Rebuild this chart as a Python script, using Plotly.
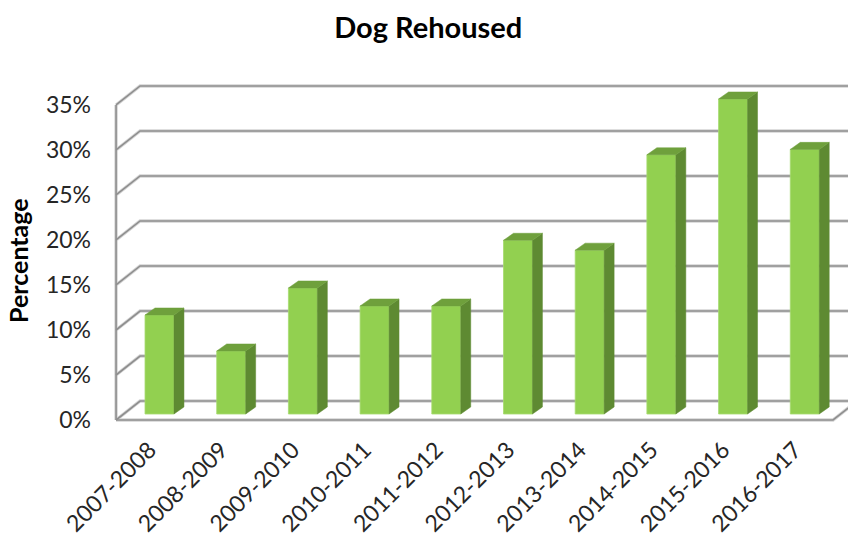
import plotly.graph_objects as go

# Share of dogs rehoused per season
seasons = ["2007-2008", "2008-2009", "2009-2010", "2010-2011", "2011-2012",
           "2012-2013", "2013-2014", "2014-2015", "2015-2016", "2016-2017"]
rehoused_pct = [11.0, 7.0, 14.0, 12.0, 12.0, 19.3, 18.2, 28.8, 35.0, 29.4]
tick_pct = [0, 5, 10, 15, 20, 25, 30, 35]

FONT = "Lato, 'Open Sans', sans-serif"
FRONT = "#92D050"
SIDE = "#5E8A32"
TOP = "#6FA03C"

idx = list(range(len(seasons)))
bar_w = 0.404
bar_dx, bar_dy = 0.139, 0.78          # depth of each bar (x units, % units)
box_front = (-0.106, -0.667)          # bar plane -> front edge of floor/walls
box_back = (0.229, 1.444)             # bar plane -> back wall
x_lo, x_hi = -0.5, 9.5                # extent of the floor on the bar plane
label_shift = -0.14                   # category labels sit at the floor's front edge

fig = go.Figure()

# front faces of the bars
fig.add_trace(go.Bar(
    x=idx, y=rehoused_pct, width=bar_w,
    marker=dict(color=FRONT, line=dict(color="#A6DA6E", width=0.8)),
    hovertext=seasons, hoverinfo="text+y", showlegend=False,
))

# side and top faces, built from the same values
side_x, side_y, top_x, top_y = [], [], [], []
for i, v in zip(idx, rehoused_pct):
    r, l = i + bar_w / 2, i - bar_w / 2
    side_x += [r, r + bar_dx, r + bar_dx, r, r, None]
    side_y += [0, bar_dy, v + bar_dy, v, 0, None]
    top_x += [l, l + bar_dx, r + bar_dx, r, l, None]
    top_y += [v, v + bar_dy, v + bar_dy, v, v, None]
fig.add_trace(go.Scatter(x=side_x, y=side_y, mode="lines", fill="toself",
                         fillcolor=SIDE, line=dict(color=SIDE, width=0.5),
                         hoverinfo="skip", showlegend=False))
fig.add_trace(go.Scatter(x=top_x, y=top_y, mode="lines", fill="toself",
                         fillcolor=TOP, line=dict(color=TOP, width=0.5),
                         hoverinfo="skip", showlegend=False))

# walls and floor: gridlines run along the left wall and across the back wall
fx, fy = box_front
bx, by = box_back
paths = []
for t in tick_pct:
    paths.append(f"M{x_lo + fx},{t + fy} L{x_lo + bx},{t + by} L{x_hi + bx + 1},{t + by}")
paths.append(f"M{x_lo + fx},{fy} L{x_lo + fx},{tick_pct[-1] + fy}")
paths.append(f"M{x_lo + fx},{fy} L{x_hi + fx},{fy} L{x_hi + bx},{by}")
shapes = []
for p in paths:
    shapes.append(dict(type="path", path=p, xref="x", yref="y", layer="below",
                       line=dict(color="#D4D4D4", width=3.4)))
for p in paths:
    shapes.append(dict(type="path", path=p, xref="x", yref="y", layer="below",
                       line=dict(color="#8E8E8E", width=1.6)))

fig.update_layout(
    width=848, height=536,
    margin=dict(l=100, r=0, t=70, b=106, autoexpand=False),
    paper_bgcolor="white", plot_bgcolor="white",
    shapes=shapes,
    title=dict(text="<b>Dog Rehoused</b>", x=0.505, xref="container",
               y=1 - 28 / 536, yanchor="middle", xanchor="center",
               automargin=False,
               font=dict(family=FONT, size=29, color="#000000")),
    xaxis=dict(range=[-0.830, 9.603],
               tickvals=[i + label_shift for i in idx], ticktext=seasons,
               tickangle=-45, showgrid=False, zeroline=False, showline=False,
               ticks="", ticklabelstandoff=1, automargin=False,
               tickfont=dict(family=FONT, size=23, color="#262626")),
    yaxis=dict(range=[-1.778, 38.22],
               tickvals=[t + fy for t in tick_pct],
               ticktext=[f"{t}%" for t in tick_pct],
               showgrid=False, zeroline=False, showline=False, ticks="",
               ticklabelstandoff=8, automargin=False,
               tickfont=dict(family=FONT, size=23, color="#262626")),
    annotations=[dict(text="<b>Percentage</b>", textangle=-90,
                      xref="paper", yref="paper",
                      x=(18 - 100) / 748, y=(430 - 261) / 360,
                      xanchor="center", yanchor="middle", showarrow=False,
                      font=dict(family=FONT, size=25, color="#000000"))],
)

fig.write_html("out.html")
